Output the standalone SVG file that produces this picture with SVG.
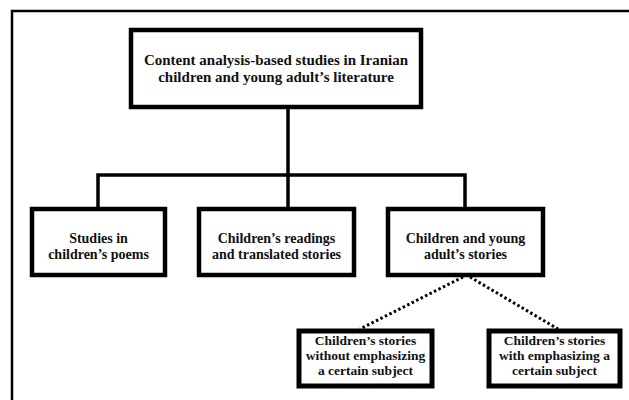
<svg xmlns="http://www.w3.org/2000/svg" width="629" height="400" viewBox="0 0 629 400">
<style>
.box{fill:#fff;stroke:#000;stroke-width:4.5}
.box3{fill:#fff;stroke:#000;stroke-width:5}
.t{font-family:"Liberation Serif","Times New Roman",serif;font-weight:bold;fill:#111;text-anchor:middle}
.t1{font-size:15px}
.t2{font-size:14px}
.t3{font-size:13.5px}
.solid{fill:none;stroke:#000;stroke-width:3.5}
.dot{fill:none;stroke:#000;stroke-width:3;stroke-dasharray:2.5 2.5}
</style>
<rect width="629" height="400" fill="#fff"/>
<path d="M12 400 V11 H629" fill="none" stroke="#000" stroke-width="2.5"/>
<g id="connectors">
<path class="solid" d="M288 107 V209"/>
<path class="solid" d="M98 209 V175 H465 V209"/>
<path class="dot" d="M463 277 L360 329"/>
<path class="dot" d="M470 277 L558 329"/>
</g>
<g id="root">
<rect class="box" x="131" y="30" width="290" height="77"/>
<text class="t t1" x="276" y="65">Content analysis-based studies in Iranian</text>
<text class="t t1" x="276" y="82">children and young adult’s literature</text>
</g>
<g id="poems">
<rect class="box" x="32" y="209" width="133" height="66"/>
<text class="t t2" x="98.5" y="243">Studies in</text>
<text class="t t2" x="98.5" y="259">children’s poems</text>
</g>
<g id="readings">
<rect class="box" x="199" y="209" width="155" height="66"/>
<text class="t t2" x="276.5" y="243">Children’s readings</text>
<text class="t t2" x="276.5" y="259">and translated stories</text>
</g>
<g id="stories">
<rect class="box" x="388" y="209" width="155" height="66"/>
<text class="t t2" x="465.5" y="243">Children and young</text>
<text class="t t2" x="465.5" y="259">adult’s stories</text>
</g>
<g id="without">
<rect class="box3" x="299" y="331" width="133" height="55"/>
<text class="t t3" x="365.5" y="345">Children’s stories</text>
<text class="t t3" x="365.5" y="360">without emphasizing</text>
<text class="t t3" x="365.5" y="375">a certain subject</text>
</g>
<g id="with">
<rect class="box3" x="489" y="331" width="131" height="55"/>
<text class="t t3" x="554.5" y="345">Children’s stories</text>
<text class="t t3" x="554.5" y="360">with emphasizing a</text>
<text class="t t3" x="554.5" y="375">certain subject</text>
</g>
</svg>
